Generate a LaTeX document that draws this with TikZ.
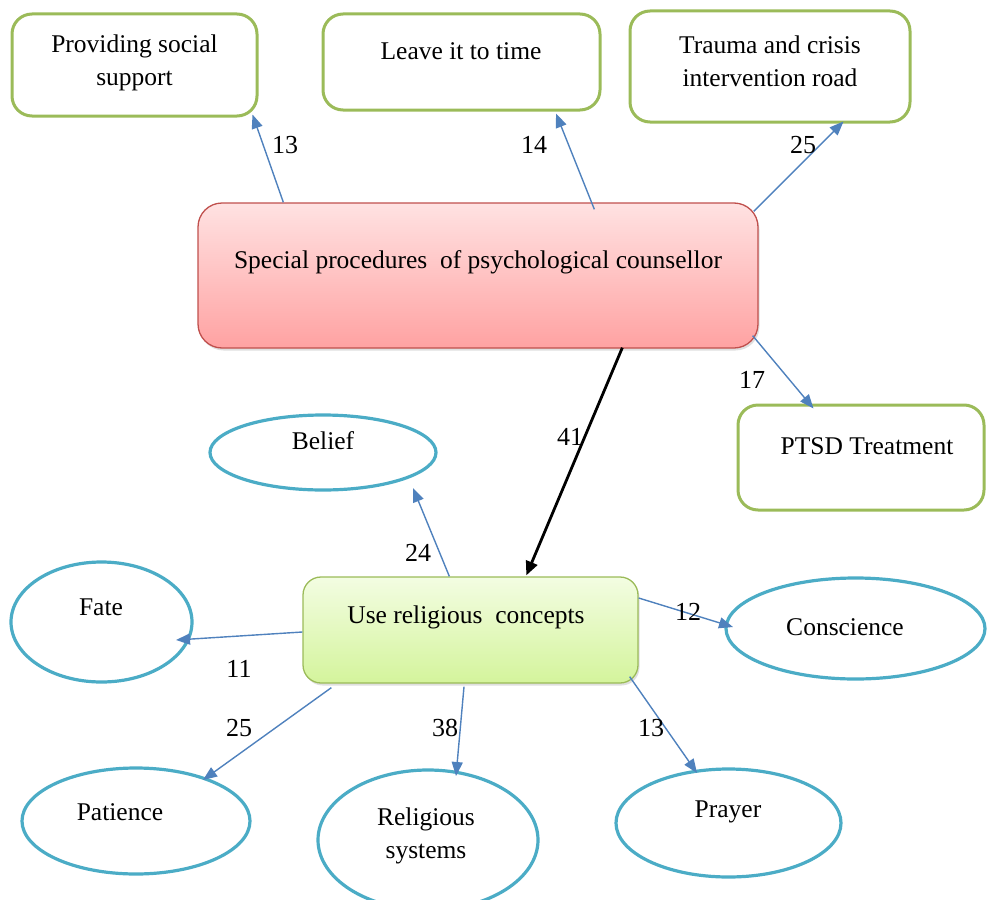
\documentclass[tikz,border=0pt]{standalone}
\usepackage{fontspec}
\setmainfont{Liberation Serif}
\usetikzlibrary{calc,arrows.meta,shapes.geometric,shadows}
\definecolor{gborder}{HTML}{9BBB59}
\definecolor{rborder}{HTML}{C0504D}
\definecolor{rtop}{HTML}{FFE2E2}
\definecolor{rbot}{HTML}{FFA2A2}
\definecolor{gtop}{HTML}{F3FDE2}
\definecolor{gbot}{HTML}{D4F49C}
\definecolor{cyanb}{HTML}{4BACC6}
\definecolor{arrblue}{HTML}{4F81BD}
\tikzset{
  outbox/.style={draw=gborder, line width=3pt, rounded corners=20pt, fill=white, inner sep=0pt},
  mainbox/.style={draw=rborder, line width=1.3pt, rounded corners=24pt, top color=rtop, bottom color=rbot, inner sep=0pt,
     drop shadow={opacity=0.25, shadow xshift=1.5pt, shadow yshift=-2.5pt}},
  relbox/.style={draw=gborder, line width=1.3pt, rounded corners=18pt, top color=gtop, bottom color=gbot, inner sep=0pt,
     drop shadow={opacity=0.25, shadow xshift=1.5pt, shadow yshift=-2.5pt}},
  oval/.style={ellipse, draw=cyanb, line width=3.2pt, fill=white, inner sep=0pt},
  txt/.style={font=\fontsize{25.5}{33}\selectfont, align=center, inner sep=0pt},
  num/.style={font=\fontsize{26}{30}\selectfont, inner sep=0pt},
  conn/.style={draw=arrblue, line width=1.4pt, -{Triangle[length=14pt,width=11pt]}},
  bigconn/.style={draw=black, line width=2.8pt, -{Triangle[length=14pt,width=12pt]}}
}
\begin{document}
\begin{tikzpicture}[x=1pt,y=-1pt]
\useasboundingbox (0,0) rectangle (987,899);
% boxes
\node[outbox, minimum width=245, minimum height=102] (pss) at (134.5,65) {};
\node[txt] (pssT) at (134.5,63) {Providing social\\support};
\node[outbox, minimum width=277, minimum height=96] (lit) at (461.5,62) {};
\node[txt] (litT) at (461,51) {Leave it to time};
\node[outbox, minimum width=280, minimum height=111] (tci) at (770,66.5) {};
\node[txt] (tciT) at (770,61.5) {Trauma and crisis\\intervention road};
\node[mainbox, minimum width=560, minimum height=145] (sp) at (478,275.5) {};
\node[txt] (spT) at (478,262) {Special procedures\ \ of psychological counsellor};
\node[outbox, minimum width=246, minimum height=105] (ptsd) at (861,457.5) {};
\node[txt] (ptsdT) at (867,446) {PTSD Treatment};
\node[relbox, minimum width=335, minimum height=106] (urc) at (470.5,630) {};
\node[txt] (urcT) at (466,617) {Use religious\ \ concepts};
% ellipses
\node[oval, minimum width=226, minimum height=75] (bel) at (323,452.5) {};
\node[txt] (belT) at (323,441) {Belief};
\node[oval, minimum width=181, minimum height=120] (fate) at (101.5,622) {};
\node[txt] (fateT) at (101,607) {Fate};
\node[oval, minimum width=259, minimum height=101] (con) at (855.5,628.5) {};
\node[txt] (conT) at (845,627) {Conscience};
\node[oval, minimum width=228, minimum height=106] (pat) at (136,821) {};
\node[txt] (patT) at (120,812) {Patience};
\node[oval, minimum width=220, minimum height=140] (rel) at (428,840) {};
\node[txt] (relT) at (426,836) {Religious\\systems};
\node[oval, minimum width=225, minimum height=108] (pra) at (728.5,823) {};
\node[txt] (praT) at (728,812) {Prayer};
% connectors
\draw[conn] ($(sp.north west)+(86,0)$) -- ($(pss.south east)+(-6,-3)$);
\draw[conn] ($(sp.north west)+(397,7)$) -- ($(lit.south)+(94.5,2)$);
\draw[conn] ($(sp.north east)+(-5,9)$) -- ($(tci.south west)+(215,-2)$);
\draw[conn] ($(sp.south east)+(-6,-13)$) -- ($(ptsd.north west)+(77,5)$);
\draw[bigconn] ($(sp.south west)+(425,-1)$) -- ($(urc.north west)+(224,-1)$);
\draw[conn] ($(urc.north west)+(147,0)$) -- ($(bel.center)+(90,35.5)$);
\draw[conn] ($(urc.west)+(0,2)$) -- ($(fate.center)+(74.5,18)$);
\draw[conn] ($(urc.east)+(0,-32)$) -- ($(con.center)+(-122.5,-1.5)$);
\draw[conn] ($(urc.south west)+(29,4)$) -- ($(pat.center)+(67,-41)$);
\draw[conn] ($(urc.south)+(-6.5,3)$) -- ($(rel.center)+(28,-64)$);
\draw[conn] ($(urc.south east)+(-9,-7)$) -- ($(pra.center)+(-31.5,-50)$);
% numbers
\node[num] (n1) at (285,145) {13};
\node[num] (n2) at (534,145) {14};
\node[num] (n3) at (803,145) {25};
\node[num] (n4) at (752,380) {17};
\node[num] (n5) at (570,437) {41};
\node[num] (n6) at (418,553) {24};
\node[num] (n7) at (239,669) {11};
\node[num] (n8) at (688,612) {12};
\node[num] (n9) at (239,728) {25};
\node[num] (n10) at (445,728) {38};
\node[num] (n11) at (651,728) {13};
\end{tikzpicture}
\end{document}
